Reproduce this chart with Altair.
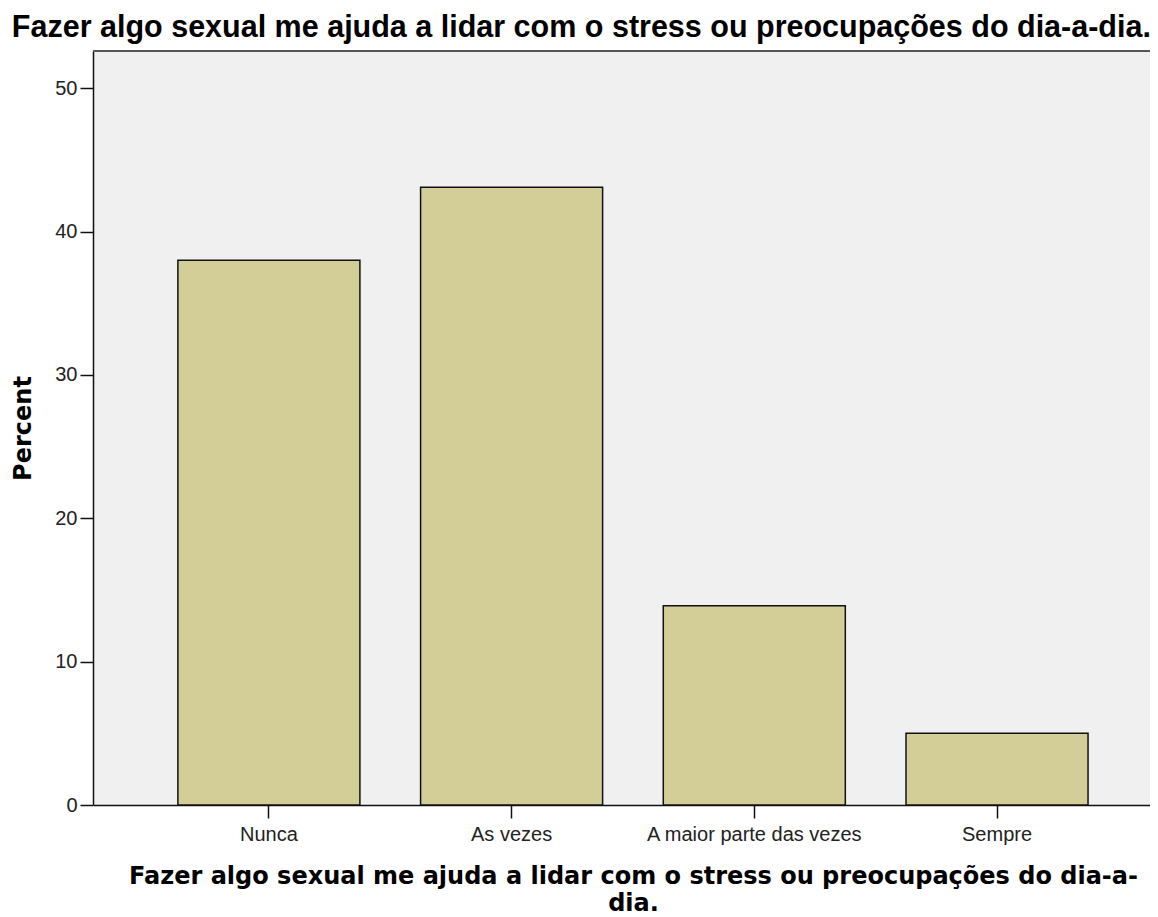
import altair as alt
import pandas as pd

categories = ["Nunca", "As vezes", "A maior parte das vezes", "Sempre"]
percents = [38.0, 43.1, 13.9, 5.0]
y_ticks = [0, 10, 20, 30, 40, 50]
y_max = 52.6

chart_title = "Fazer algo sexual me ajuda a lidar com o stress ou preocupações do dia-a-dia."
x_title = ["Fazer algo sexual me ajuda a lidar com o stress ou preocupações do dia-a-", "dia."]
y_title = "Percent"

df = pd.DataFrame({"cat": categories, "pct": percents})

W, H = 1057, 754

bars = alt.Chart(df).mark_bar(
    fill="#D3CE97", stroke="#111111", strokeWidth=1.5
).encode(
    x=alt.X(
        "cat:N", sort=categories,
        scale=alt.Scale(paddingInner=0.25, paddingOuter=0.3025, align=0.578),
        axis=alt.Axis(
            title=x_title, labelAngle=0, labelFont="Liberation Sans", labelFontSize=20,
            labelColor="#222222", labelPadding=6, labelLimit=0, tickSize=13,
            tickColor="#111111", tickWidth=1.5, domainColor="#111111", domainWidth=1.5,
            titleFont="DejaVu Sans", titleFontSize=24, titleFontWeight="bold",
            titleColor="#000000", titlePadding=20, titleX=540, titleAlign="center",
            titleLineHeight=27,
        ),
    ),
    y=alt.Y(
        "pct:Q",
        scale=alt.Scale(domain=[0, y_max], nice=False, zero=True),
        axis=alt.Axis(
            title=y_title, values=y_ticks, grid=False, labelFont="Liberation Sans",
            labelFontSize=20, labelColor="#222222", labelPadding=3, tickSize=13,
            tickColor="#111111", tickWidth=1.5, domainColor="#111111", domainWidth=1.5,
            titleFont="DejaVu Sans", titleFontSize=24, titleFontWeight="bold",
            titleColor="#000000", titlePadding=19,
        ),
    ),
)

top_border = alt.Chart(df).mark_rule(color="#555555", strokeWidth=2).encode(
    x=alt.value(0), x2=alt.value(W), y=alt.datum(y_max)
)

chart = alt.layer(bars, top_border).properties(
    width=W, height=H,
    title=alt.TitleParams(
        text=chart_title, font="Liberation Sans", fontSize=30.5, fontWeight="bold",
        color="#000000", anchor="middle", frame="bounds", offset=7,
    ),
    autosize=alt.AutoSizeParams(type="none"),
    padding={"left": 85, "top": 43, "right": 0, "bottom": 110},
).configure_view(
    fill="#F0F0F0", stroke=None
)

chart.save("out.html", embed_options={"renderer": "svg", "actions": False})
